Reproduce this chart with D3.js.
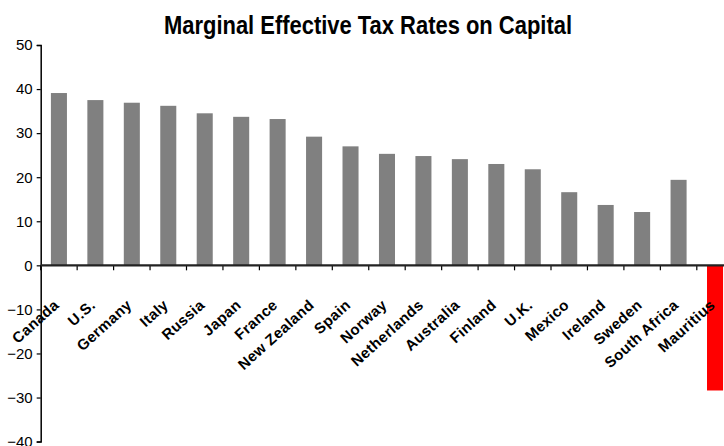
<!DOCTYPE html>
<html>
<head>
<meta charset="utf-8">
<script src="https://cdn.jsdelivr.net/npm/d3@7/dist/d3.min.js"></script>
<style>
  html, body { margin: 0; padding: 0; background: #fff; }
  svg { display: block; }
</style>
</head>
<body>
<svg id="chart" width="724" height="446"></svg>
<script>
// Marginal effective tax rates on capital, by country (%)
const countries = ["Canada", "U.S.", "Germany", "Italy", "Russia", "Japan", "France",
  "New Zealand", "Spain", "Norway", "Netherlands", "Australia", "Finland", "U.K.",
  "Mexico", "Ireland", "Sweden", "South Africa", "Mauritius"];
const rates = [39.1, 37.5, 36.9, 36.2, 34.5, 33.7, 33.2, 29.2, 27.0, 25.3, 24.8,
  24.1, 23.0, 21.8, 16.6, 13.7, 12.1, 19.4, -28.4];
const highlight = ["Mauritius"];
const yTicks = [-40, -30, -20, -10, 0, 10, 20, 30, 40, 50];
const titleText = "Marginal Effective Tax Rates on Capital";

const svg = d3.select("#chart");
const axisX = 40.7;

const x = d3.scaleBand()
  .domain(countries)
  .range([axisX, axisX + 19 * 36.45])
  .paddingInner(0.56)
  .paddingOuter(0.28);

const y = d3.scaleLinear()
  .domain([-40, 50])
  .range([441.6, 45]);

// Title, condensed bold
svg.append("text")
  .attr("x", 368)
  .attr("y", 34)
  .attr("text-anchor", "middle")
  .attr("textLength", 408)
  .attr("lengthAdjust", "spacingAndGlyphs")
  .style("font-family", "'Liberation Sans', Arial, sans-serif")
  .style("font-weight", "bold")
  .style("font-size", "25px")
  .text(titleText);

// Bars
svg.append("g")
  .selectAll("rect")
  .data(countries)
  .join("rect")
  .attr("x", d => x(d))
  .attr("width", x.bandwidth())
  .attr("y", (d, i) => y(Math.max(0, rates[i])))
  .attr("height", (d, i) => Math.abs(y(rates[i]) - y(0)))
  .attr("fill", d => highlight.includes(d) ? "#ff0000" : "#808080");

// Y axis
const yAxis = svg.append("g")
  .attr("transform", `translate(${axisX},0)`)
  .call(d3.axisLeft(y).tickValues(yTicks).tickSize(4).tickPadding(4).tickFormat(d3.format("d")));
yAxis.select(".domain").attr("stroke", "#000").attr("stroke-width", 1.5);
yAxis.selectAll(".tick line").attr("stroke", "#000").attr("stroke-width", 1.2);
yAxis.selectAll(".tick text")
  .style("font-family", "'Liberation Sans', Arial, sans-serif")
  .style("font-size", "15px")
  .attr("fill", "#000");

// Zero line with category separators
const step = x.step();
const boundaries = d3.range(countries.length + 1).map(i => axisX + i * step);
const xg = svg.append("g");
xg.selectAll("line.sep")
  .data(boundaries)
  .join("line")
  .attr("class", "sep")
  .attr("x1", d => d).attr("x2", d => d)
  .attr("y1", y(0)).attr("y2", y(0) + 5)
  .attr("stroke", "#000").attr("stroke-width", 1.2);
xg.append("line")
  .attr("x1", axisX).attr("x2", 724)
  .attr("y1", y(0)).attr("y2", y(0))
  .attr("stroke", "#222").attr("stroke-width", 2.2);

// Category labels, rotated
svg.append("g")
  .selectAll("text")
  .data(countries)
  .join("text")
  .attr("transform", d => `translate(${x(d) + x.bandwidth() / 2 + 1},${y(0) + 41}) rotate(-42)`)
  .attr("text-anchor", "end")
  .style("font-family", "'Liberation Sans', Arial, sans-serif")
  .style("font-weight", "bold")
  .style("font-size", "15px")
  .style("letter-spacing", "0.4px")
  .attr("fill", "#000")
  .text(d => d);
</script>
</body>
</html>
